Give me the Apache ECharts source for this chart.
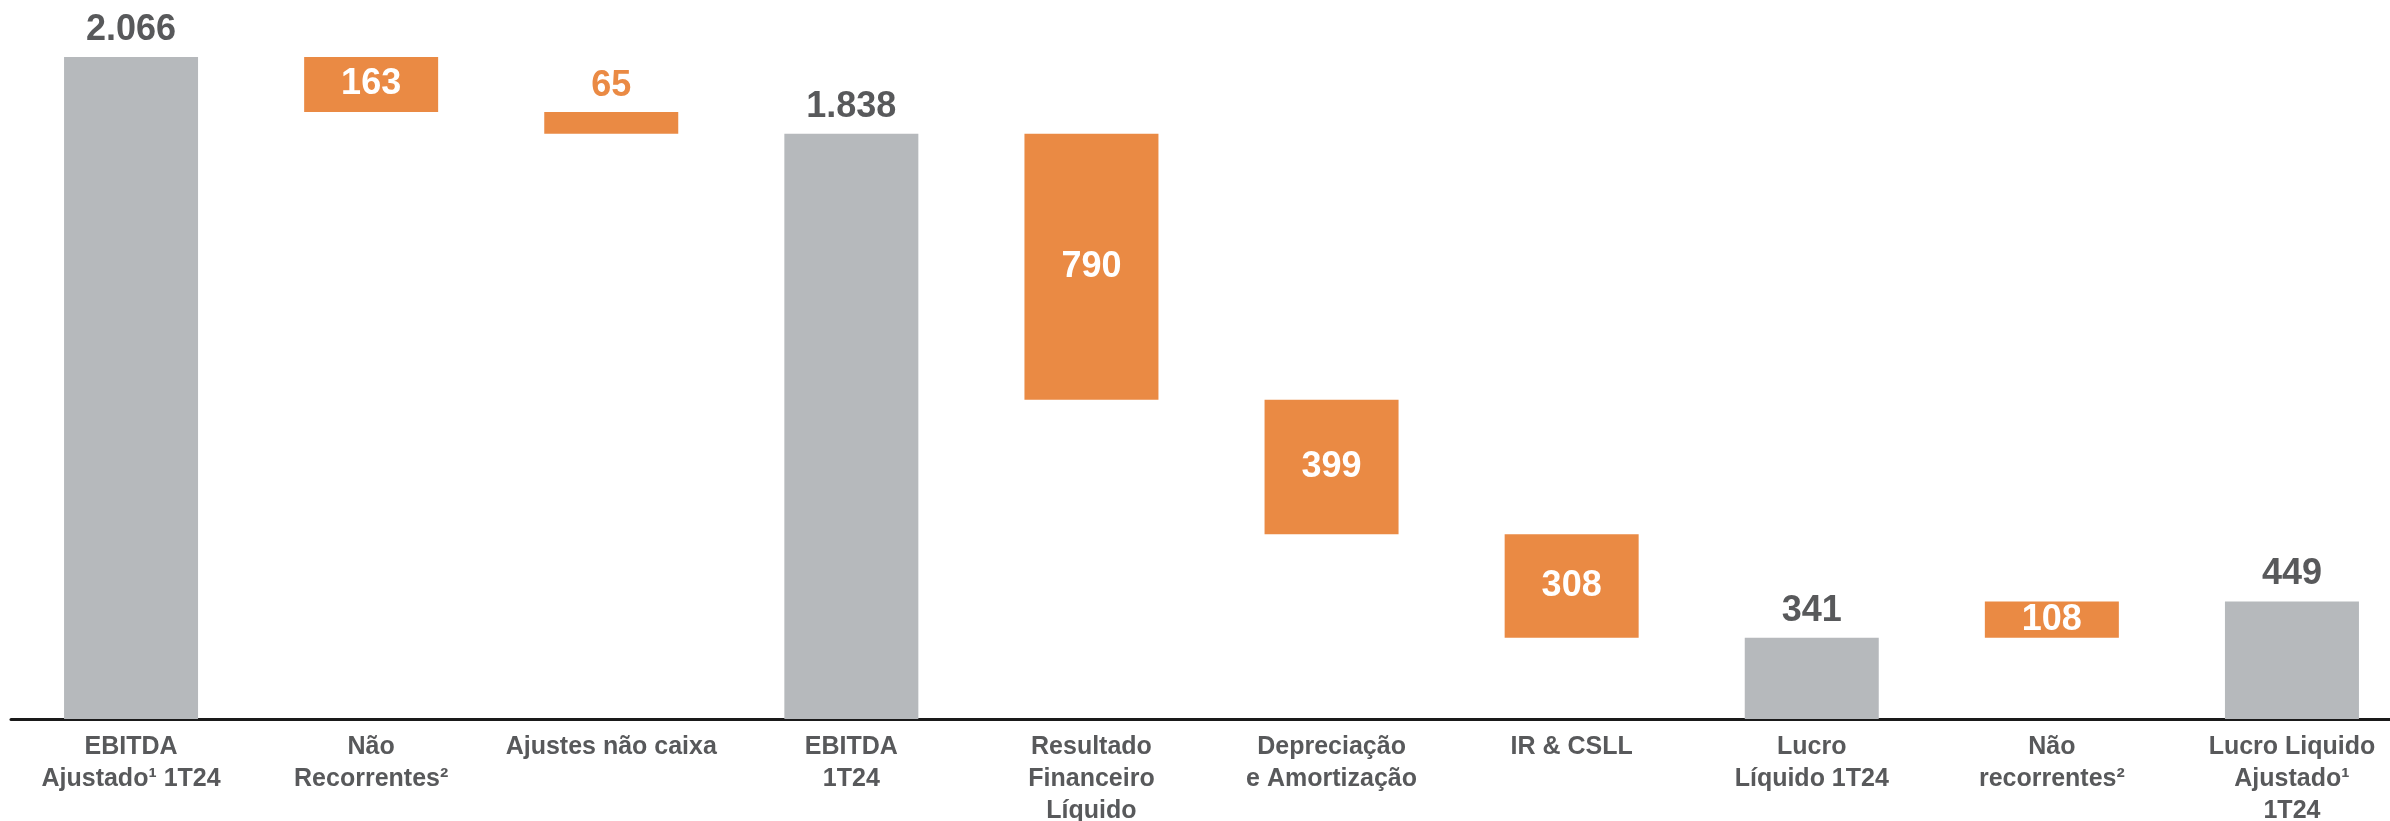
<!DOCTYPE html>
<html>
<head>
<meta charset="utf-8">
<title>EBITDA - Lucro Liquido 1T24</title>
<script src="https://cdn.jsdelivr.net/npm/echarts@6/dist/echarts.min.js"></script>
<style>
html,body{margin:0;padding:0;background:#fff;}
#waterfall{width:2390px;height:821px;}
</style>
</head>
<body>
<div id="waterfall"></div>
<script>
// categorias do eixo x
var categorias = ['EBITDA\nAjustado¹ 1T24', 'Não\nRecorrentes²', 'Ajustes não caixa', 'EBITDA\n1T24',
	'Resultado\nFinanceiro\nLíquido', 'Depreciação\ne Amortização', 'IR & CSLL', 'Lucro\nLíquido 1T24',
	'Não\nrecorrentes²', 'Lucro Liquido\nAjustado¹\n1T24'];
// barras cinzas (totais)
var totais = [2066, null, null, 1838, null, null, null, 341, null, 449];
// barras laranjas (variacoes, negativo = reducao)
var variacoes = [null, -163, -65, null, -790, -399, -308, null, 108, null];
// barras finas demais para o rotulo dentro
var rotuloFora = [false, false, true, false, false, false, false, false, false, false];

var cinza = '#B6B9BC';
var laranja = '#EA8A44';
var texto = '#58595B';

var fmt = function(v){
	return String(Math.abs(v)).replace(/\B(?=(\d{3})+(?!\d))/g, '.');
}

var waterfallChart = function(dom){
	dom.innerHTML = '';
	var myChart = echarts.init(dom);
	var option = null;

	// monta base invisivel e barras a partir do nivel corrente
	var base = [];
	var barTotal = [];
	var barVar = [];
	var nivel = 0;
	for(var i = 0;i < categorias.length;i++){
		if(totais[i] != null){
			nivel = totais[i];
			base.push(0);
			barTotal.push(totais[i]);
			barVar.push('-');
		}else{
			var novo = nivel + variacoes[i];
			base.push(Math.min(nivel, novo));
			barTotal.push('-');
			var item = {value: Math.abs(variacoes[i])};
			if(rotuloFora[i]){
				item.label = {position: 'top', color: laranja, distance: 8};
			}
			barVar.push(item);
			nivel = novo;
		}
	}

	option = {
		animation: false,
		backgroundColor: '#fff',
		grid: {
			left: 11,
			width: 2401,
			top: 57,
			bottom: 102,
			containLabel: false,
			outerBoundsMode: 'none'
		},
		xAxis: [
			{
				type: 'category',
				data: categorias,
				axisTick: {show: false},
				axisLine: {lineStyle: {color: '#1a1a1a', width: 3}},
				axisLabel: {
					interval: 0,
					margin: 12,
					color: texto,
					fontFamily: '"Liberation Sans", Arial, sans-serif',
					fontWeight: 'bold',
					fontSize: 25,
					lineHeight: 32
				}
			}
		],
		yAxis: [
			{
				type: 'value',
				min: 100,
				max: totais[0],
				show: false
			}
		],
		series: [
			{
				name: 'base',
				type: 'bar',
				stack: 'w',
				barWidth: 134,
				clip: true,
				silent: true,
				itemStyle: {color: 'transparent'},
				data: base
			},
			{
				name: 'total',
				type: 'bar',
				stack: 'w',
				barWidth: 134,
				clip: true,
				itemStyle: {color: cinza},
				label: {
					show: true,
					position: 'top',
					distance: 9,
					color: texto,
					fontFamily: '"Liberation Sans", Arial, sans-serif',
					fontWeight: 'bold',
					fontSize: 36,
					formatter: function(p){ return fmt(p.value); }
				},
				data: barTotal
			},
			{
				name: 'variacao',
				type: 'bar',
				stack: 'w',
				barWidth: 134,
				clip: true,
				itemStyle: {color: laranja},
				label: {
					show: true,
					position: 'inside',
					color: '#fff',
					fontFamily: '"Liberation Sans", Arial, sans-serif',
					fontWeight: 'bold',
					fontSize: 36,
					formatter: function(p){ return fmt(p.value); }
				},
				data: barVar
			}
		]
	};

	if (option && typeof option === "object") {
		myChart.setOption(option, true);
	}
	window.addEventListener("resize",function(){
		myChart.resize();
	});
}

waterfallChart(document.getElementById('waterfall'));
</script>
</body>
</html>
